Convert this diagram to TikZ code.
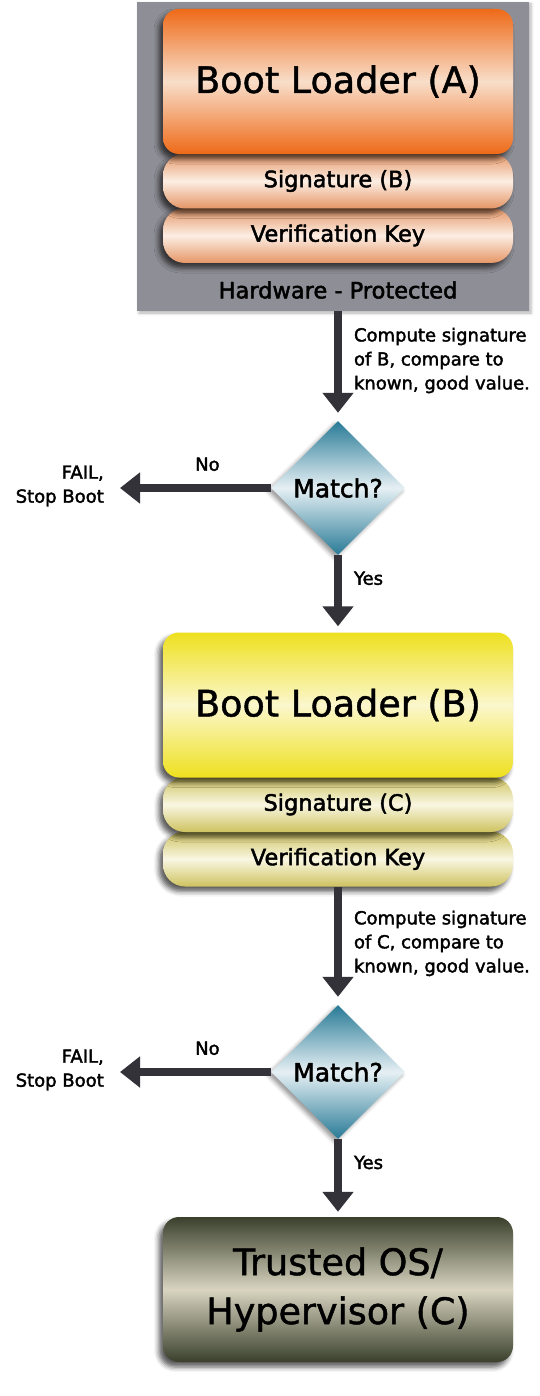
\documentclass[tikz,border=0pt]{standalone}
\usepackage{fontspec}
\setmainfont{DejaVu Sans}[FakeBold=1.2]
\newfontfamily\notefont{DejaVu Sans}[FakeBold=2]
\usetikzlibrary{shapes.geometric,arrows.meta,shadows.blur}
\definecolor{hwgray}{RGB}{142,142,150}
\definecolor{orangedark}{RGB}{238,106,24}
\definecolor{orangelight}{RGB}{248,222,202}
\definecolor{peachdark}{RGB}{229,150,102}
\definecolor{peachlight}{RGB}{252,238,228}
\definecolor{yellowdark}{RGB}{238,224,30}
\definecolor{yellowlight}{RGB}{251,247,204}
\definecolor{strawdark}{RGB}{206,194,96}
\definecolor{strawlight}{RGB}{249,247,226}
\definecolor{olivedark}{RGB}{58,64,44}
\definecolor{olivelight}{RGB}{216,212,192}
\definecolor{tealdark}{RGB}{40,122,150}
\definecolor{teallight}{RGB}{230,240,244}
\definecolor{arrowgray}{RGB}{50,50,56}

\begin{document}
\begin{tikzpicture}[x=1pt, y=-1pt,
    box/.style={rounded corners=16pt, minimum width=350pt, minimum height=145pt, inner sep=0pt,
        blur shadow={shadow xshift=-4pt, shadow yshift=-5pt, shadow blur radius=5pt, shadow opacity=65},
        font=\fontsize{36.5}{49}\selectfont, align=center},
    layer/.style={box, rounded corners=22pt, minimum height=55pt, font=\notefont\fontsize{22.5}{27}\selectfont},
    decision/.style={diamond, aspect=1, minimum width=134pt, minimum height=134pt, inner sep=0pt,
        top color=tealdark, bottom color=tealdark, middle color=teallight,
        blur shadow={shadow xshift=-3pt, shadow yshift=-3pt, shadow blur radius=4pt, shadow opacity=40},
        font=\notefont\fontsize{25}{30}\selectfont},
    flow/.style={line width=8pt, arrowgray, -{Triangle[width=30pt,length=20pt]}},
    note/.style={font=\notefont\fontsize{18}{24}\selectfont, align=left, inner sep=0pt, text=black},
    fail/.style={note, align=right, anchor=east},
  ]
    \useasboundingbox (0,0) rectangle (540,1396);

    % Zona protegida por hardware
    \node[fill=hwgray, minimum width=392pt, minimum height=309pt, inner sep=0pt,
        blur shadow={shadow xshift=2pt, shadow yshift=-2pt, shadow blur radius=3pt, shadow opacity=30}] (hw) at (333,156.5) {};
    \node[font=\notefont\fontsize{22.5}{27}\selectfont] (hwtext) at (338,290) {Hardware - Protected};

    % Cargador A
    \node[layer, top color=peachdark, bottom color=peachdark, middle color=peachlight] (keyA) at (338,235.5) {Verification Key};
    \node[layer, top color=peachdark, bottom color=peachdark, middle color=peachlight] (sigA) at (338,181) {Signature (B)};
    \node[box, top color=orangedark, bottom color=orangedark, middle color=orangelight] (loaderA) at (338,81.5) {Boot Loader (A)};

    % Primera comprobacion
    \node[decision] (matchA) at (338,488) {Match?};
    \node[fail] (failA) at (104,486) {FAIL,\\Stop Boot};

    \draw[flow, shorten >=8pt] (matchA |- hw.south) -- (matchA.north)
        node[note, pos=0.45, right=12pt] {Compute signature\\of B, compare to\\known, good value.};
    \draw[flow, shorten >=16pt] (matchA.west) -- (failA.east |- matchA.west)
        node[note, pos=0.38, above=13pt] {No};

    % Cargador B
    \node[layer, top color=strawdark, bottom color=strawdark, middle color=strawlight] (keyB) at (338,859) {Verification Key};
    \node[layer, top color=strawdark, bottom color=strawdark, middle color=strawlight] (sigB) at (338,804.5) {Signature (C)};
    \node[box, top color=yellowdark, bottom color=yellowdark, middle color=yellowlight] (loaderB) at (338,705) {Boot Loader (B)};

    \draw[flow, shorten >=6pt] (matchA.south) -- (loaderB.north)
        node[note, pos=0.3, right=12pt] {Yes};

    % Segunda comprobacion
    \node[decision] (matchB) at (338,1072) {Match?};
    \node[fail] (failB) at (104,1070) {FAIL,\\Stop Boot};

    \draw[flow, shorten >=8pt] (keyB.south) -- (matchB.north)
        node[note, pos=0.48, right=12pt] {Compute signature\\of C, compare to\\known, good value.};
    \draw[flow, shorten >=16pt] (matchB.west) -- (failB.east |- matchB.west)
        node[note, pos=0.38, above=13pt] {No};

    % Sistema de confianza
    \node[box, top color=olivedark, bottom color=olivedark, middle color=olivelight] (trusted) at (338,1289.5) {Trusted OS/\\Hypervisor (C)};

    \draw[flow, shorten >=5pt] (matchB.south) -- (trusted.north)
        node[note, pos=0.3, right=12pt] {Yes};
\end{tikzpicture}
\end{document}
